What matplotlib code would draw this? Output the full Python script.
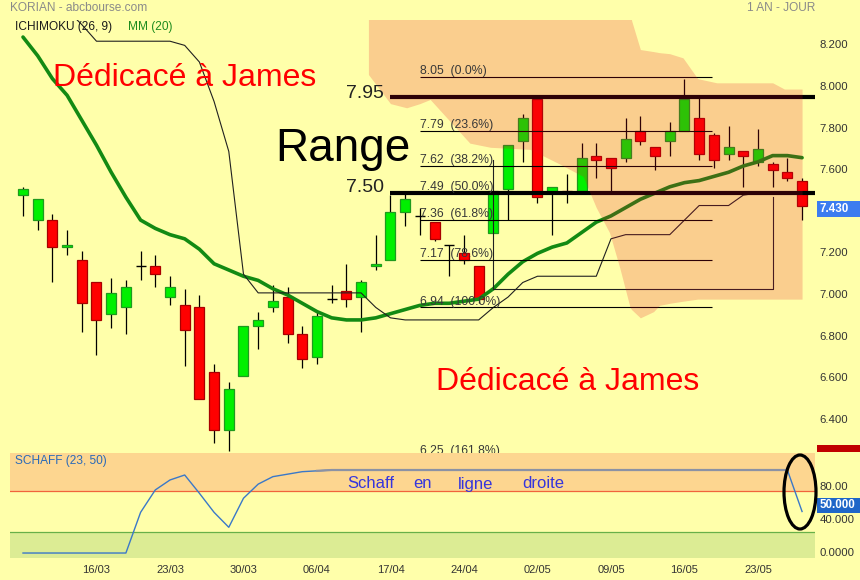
import matplotlib
matplotlib.use('Agg')
import matplotlib.pyplot as plt
import numpy as np
from matplotlib.patches import Rectangle, Ellipse

plt.rcParams['font.family'] = ['Liberation Sans', 'DejaVu Sans']

W, H = 860, 580

# ---------------- data ----------------
opens  = [7.48, 7.36, 7.36, 7.23, 7.17, 7.06, 6.91, 6.94, 7.14, 7.14,
          6.99, 6.95, 6.94, 6.63, 6.35, 6.61, 6.85, 6.94, 6.99, 6.81,
          6.70, 6.98, 7.02, 6.99, 7.14, 7.17, 7.40, 7.38, 7.35, 7.24,
          7.20, 7.14, 7.30, 7.51, 7.74, 7.94, 7.49, 7.50, 7.50, 7.67,
          7.66, 7.66, 7.79, 7.71, 7.74, 7.79, 7.85, 7.77, 7.68, 7.69,
          7.64, 7.63, 7.59, 7.55]
highs  = [7.52, 7.46, 7.39, 7.31, 7.21, 7.06, 7.08, 7.07, 7.21, 7.19,
          7.09, 7.03, 7.00, 6.67, 6.58, 6.85, 6.92, 7.05, 7.04, 6.85,
          6.92, 7.05, 7.15, 7.07, 7.29, 7.48, 7.50, 7.42, 7.35, 7.24,
          7.29, 7.14, 7.50, 7.72, 7.87, 7.95, 7.52, 7.58, 7.73, 7.73,
          7.66, 7.85, 7.86, 7.71, 7.83, 8.04, 7.96, 7.78, 7.81, 7.69,
          7.80, 7.64, 7.66, 7.56]
lows   = [7.38, 7.31, 7.06, 7.19, 6.82, 6.71, 6.84, 6.81, 7.07, 7.04,
          6.95, 6.66, 6.50, 6.29, 6.25, 6.61, 6.74, 6.92, 6.77, 6.65,
          6.67, 6.96, 6.94, 6.82, 7.12, 7.17, 7.33, 7.29, 7.26, 7.09,
          7.15, 6.96, 7.30, 7.36, 7.64, 7.44, 7.29, 7.44, 7.50, 7.56,
          7.50, 7.64, 7.72, 7.60, 7.67, 7.79, 7.65, 7.61, 7.65, 7.52,
          7.62, 7.52, 7.55, 7.36]
closes = [7.51, 7.46, 7.23, 7.24, 6.96, 6.88, 7.01, 7.04, 7.14, 7.10,
          7.04, 6.83, 6.50, 6.35, 6.55, 6.85, 6.88, 6.97, 6.81, 6.69,
          6.90, 6.98, 6.98, 7.06, 7.15, 7.40, 7.46, 7.38, 7.27, 7.24,
          7.17, 6.98, 7.50, 7.72, 7.85, 7.47, 7.52, 7.49, 7.66, 7.65,
          7.61, 7.75, 7.74, 7.67, 7.79, 7.94, 7.68, 7.65, 7.71, 7.67,
          7.70, 7.60, 7.56, 7.43]

mm20 = [8.24, 8.15, 8.04, 7.96, 7.84, 7.72, 7.59, 7.47, 7.36, 7.32,
        7.29, 7.27, 7.22, 7.15, 7.12, 7.09, 7.07, 7.03, 7.00, 6.96,
        6.92, 6.89, 6.88, 6.88, 6.89, 6.91, 6.93, 6.95, 6.96, 6.96,
        6.97, 6.98, 7.03, 7.10, 7.16, 7.20, 7.23, 7.25, 7.30, 7.35,
        7.38, 7.42, 7.46, 7.49, 7.52, 7.54, 7.55, 7.57, 7.59, 7.62,
        7.64, 7.67, 7.67, 7.66]

kijun = [8.52, 8.50, 8.45, 8.37, 8.30, 8.22, 8.22, 8.22, 8.22, 8.22,
         8.22, 8.20, 8.12, 7.93, 7.69, 7.10, 7.01, 7.01, 7.01, 7.01,
         7.01, 7.01, 7.01, 7.01, 6.94, 6.89, 6.88, 6.88, 6.88, 6.88,
         6.88, 6.88, 6.94, 6.99, 7.06, 7.09, 7.09, 7.09, 7.09, 7.09,
         7.27, 7.29, 7.29, 7.29, 7.29, 7.36, 7.43, 7.43, 7.43, 7.48,
         7.49, 7.49, 7.49, 7.49]

step_x = [32, 32, 51, 51]
step_y = [7.65, 7.03, 7.03, 7.47]

cloud_x     = [23.5, 25.0, 26.1, 27.0, 27.7, 30.4, 31.8, 34.5, 36.5, 38.1,
               39.0, 39.9, 40.6, 41.3, 41.4, 42.0, 42.9, 43.3, 44.0, 44.9,
               45.9, 47.2, 48.8, 51.0, 51.8, 53.0]
cloud_upper = [8.60, 8.60, 8.60, 8.60, 8.60, 8.60, 8.60, 8.60, 8.60, 8.60,
               8.60, 8.60, 8.60, 8.60, 8.32, 8.18, 8.17, 8.165, 8.16, 8.14,
               8.04, 8.02, 8.02, 8.02, 7.99, 7.99]
cloud_lower = [8.06, 7.92, 7.90, 7.92, 7.94, 7.73, 7.71, 7.70, 7.63, 7.57,
               7.42, 7.30, 7.13, 6.94, 6.93, 6.89, 6.92, 6.95, 6.96, 6.97,
               6.98, 6.98, 6.98, 6.98, 6.98, 6.98]

fib_levels = [8.05, 7.79, 7.62, 7.49, 7.36, 7.17, 6.94, 6.25]
fib_pcts   = ['0.0%', '23.6%', '38.2%', '50.0%', '61.8%', '78.6%', '100.0%', '161.8%']

range_levels = [7.95, 7.49]

schaff = [0, 0, 0, 0, 0, 0, 0, 0, 49, 76,
          88, 94, 72, 49, 31, 66, 83, 92, 95, 98,
          99, 100, 100, 100, 100, 100, 100, 100, 100, 100,
          100, 100, 100, 100, 100, 100, 100, 100, 100, 100,
          100, 100, 100, 100, 100, 100, 100, 100, 100, 100,
          100, 100, 100, 50]

date_idx = [5, 10, 15, 20, 25, 30, 35, 40, 45, 50]
date_labels = ['16/03', '23/03', '30/03', '06/04', '17/04',
               '24/04', '02/05', '09/05', '16/05', '23/05']

price_ticks = [8.2, 8.0, 7.8, 7.6, 7.2, 7.0, 6.8, 6.6, 6.4]
schaff_ticks = [80, 40, 0]
schaff_tick_labels = ['80.00', '40.000', '0.0000']

# ---------------- figure ----------------
BG = '#FFFFAA'
fig = plt.figure(figsize=(W / 100, H / 100), dpi=100, facecolor=BG)

def P(x, y):
    return (x / W, 1 - y / H)

ax = fig.add_axes([10 / W, 1 - 452 / H, 805 / W, 432 / H], facecolor=BG)
ax2 = fig.add_axes([10 / W, 1 - 558 / H, 805 / W, 105 / H], facecolor=BG)
for a in (ax, ax2):
    for s in a.spines.values():
        s.set_visible(False)
    a.tick_params(length=0)
    a.set_xlim(-0.884, 53.88)
ax.set_ylim(6.245, 8.322)
ax.set_xticks([])
ax.set_yticks([])

n = len(opens)
xs = np.arange(n)
bw = 0.68
for i in range(n):
    o, h, l, c = opens[i], highs[i], lows[i], closes[i]
    ax.vlines(i, l, h, color='black', lw=0.9, zorder=2)
    if abs(c - o) < 1e-9:
        ax.hlines(o, i - bw / 2, i + bw / 2, color='black', lw=1.0, zorder=3)
    else:
        up = c > o
        ax.add_patch(Rectangle((i - bw / 2, min(o, c)), bw, abs(c - o),
                               facecolor='#00F000' if up else '#FF0000',
                               edgecolor='#1E9A1E' if up else '#A80000',
                               lw=0.9, zorder=3))

# MA 20
ax.plot(xs, mm20, color='#138A13', lw=2.6, zorder=4, solid_capstyle='round')
# Ichimoku line
ax.plot(xs, kijun, color='#202020', lw=0.8, zorder=4)
ax.plot(step_x, step_y, color='#202020', lw=0.8, zorder=4)

# Fibonacci
fx0, fx1 = 27.0, 46.9
for lev, pct in zip(fib_levels, fib_pcts):
    inside = lev >= fib_levels[6]
    if inside:
        ax.hlines(lev, fx0, fx1, color='black', lw=0.8, zorder=4)
    ax.annotate(f'{lev:.2f}  ({pct})', (fx0, lev), xytext=(0, 2 if inside else -2.5),
                textcoords='offset points', ha='left', va='baseline',
                fontsize=8.8, color='#383838', zorder=6, annotation_clip=False)

# Range lines
for lev in range_levels:
    ax.hlines(lev, 25, 53.88, color='black', lw=3.0, zorder=4)

# cloud (on top, translucent)
ax.fill_between(cloud_x, cloud_lower, cloud_upper, color='#E60A20',
                alpha=0.2, lw=0, zorder=5)

# right price labels
for t in price_ticks:
    ax.text(1.006, t, f'{t:.3f}', transform=ax.get_yaxis_transform(),
            ha='left', va='center', fontsize=8.2, color='#333333')
last = closes[-1]
fig.patches.append(Rectangle(P(817, 217), 43 / W, 16 / H, transform=fig.transFigure,
                             facecolor='#3C7CF0', edgecolor='none', zorder=10))
fig.text(*P(820, 209), f'{last:.3f}', ha='left', va='center', fontsize=8.4,
         color='white', fontweight='bold', zorder=11)
fig.patches.append(Rectangle(P(817, 452), 43 / W, 7 / H, transform=fig.transFigure,
                             facecolor='#C00000', edgecolor='none', zorder=10))

# ---------------- Schaff panel ----------------
ax2.set_ylim(-6, 120.5)
ax2.axhspan(75, 120.5, color='#FDD690', lw=0, zorder=0)
ax2.axhspan(-6, 25, color='#DCEC94', lw=0, zorder=0)
ax2.axhline(75, color='#F0643C', lw=0.9, zorder=1)
ax2.axhline(25, color='#68B048', lw=0.9, zorder=1)
sch = np.array(schaff, dtype=float)
ax2.plot(xs, sch, color='#3A78C8', lw=1.0, zorder=3)
flat = np.where(sch >= 99, sch, np.nan)
ax2.plot(xs, flat, color='#8C92A4', lw=1.6, zorder=4)
ax2.set_yticks([])
ax2.set_xticks(date_idx)
ax2.set_xticklabels(date_labels, fontsize=8, color='#333333')
ax2.tick_params(axis='x', pad=5)
for t, lab in zip(schaff_ticks, schaff_tick_labels):
    ax2.text(1.006, t, lab, transform=ax2.get_yaxis_transform(),
             ha='left', va='center', fontsize=8.2, color='#333333')
fig.patches.append(Rectangle(P(817, 513), 43 / W, 15 / H, transform=fig.transFigure,
                             facecolor='#1F66C8', edgecolor='none', zorder=10))
fig.text(*P(820, 505.5), f'{schaff[-1]:.3f}', ha='left', va='center', fontsize=8.4,
         color='white', fontweight='bold', zorder=11)

fig.patches.append(Ellipse(P(800, 492), 32 / W, 74 / H, transform=fig.transFigure,
                           facecolor='none', edgecolor='black', lw=2.3, zorder=12))

# ---------------- texts ----------------
fig.text(*P(10, 8), 'KORIAN - abcbourse.com', ha='left', va='center', fontsize=8.6, color='#8A8A8A')
fig.text(*P(815, 8), '1 AN - JOUR', ha='right', va='center', fontsize=8.6, color='#8A8A8A')
fig.text(*P(15, 27), 'ICHIMOKU (26, 9)', ha='left', va='center', fontsize=8.6, color='#1A1A1A')
fig.text(*P(128, 27), 'MM (20)', ha='left', va='center', fontsize=8.6, color='#1E8C1E')
fig.text(*P(15, 461), 'SCHAFF (23, 50)', ha='left', va='center', fontsize=8.6, color='#2A6AB8')

fig.text(*P(53, 78), 'Dédicacé à James', ha='left', va='center', fontsize=23, color='#FF0000')
fig.text(*P(436, 382), 'Dédicacé à James', ha='left', va='center', fontsize=23, color='#FF0000')
fig.text(*P(275, 161), 'Range', ha='left', va='baseline', fontsize=33, color='black')
fig.text(*P(384, 93), '7.95', ha='right', va='center', fontsize=14, color='#222222')
fig.text(*P(384, 188), '7.50', ha='right', va='center', fontsize=14, color='#222222')

for word, x in zip(['Schaff', 'en', 'ligne', 'droite'], [347, 413, 458, 522]):
    fig.text(*P(x, 484), word, ha='left', va='center', fontsize=12, color='#3535DD')

fig.savefig('out.png', dpi=100, facecolor=BG)
